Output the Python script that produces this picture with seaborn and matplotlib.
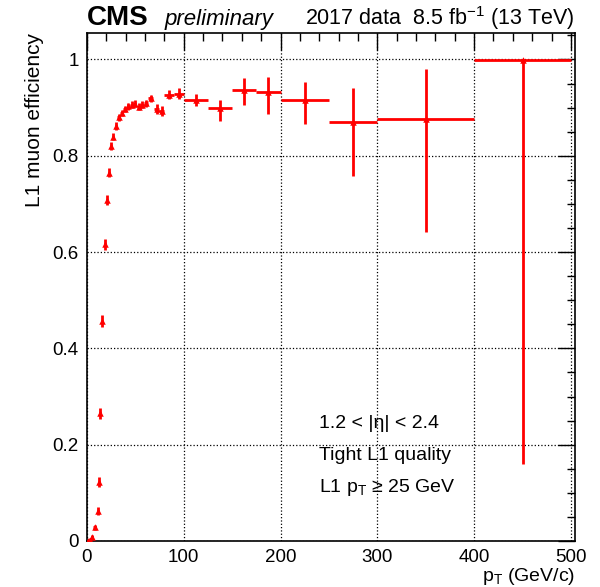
import numpy as np
import pandas as pd
import matplotlib
matplotlib.use("Agg")
import matplotlib.pyplot as plt
import seaborn as sns
from matplotlib.ticker import MultipleLocator, FuncFormatter

# ----------------------------
# Data
# ----------------------------

pt = [1, 3, 5, 8, 11, 12.7, 13.6, 16, 18.5, 21, 23, 24.5, 26.5, 30, 33,
      36, 39, 42.5, 46, 49.5, 53.5, 57, 61, 66, 72, 77, 85, 95,
      112.5, 137.5, 162.5, 187.5, 225, 275, 350, 450]

pt_halfwidth = [1, 1, 1, 1.5, 1, 0.7, 0.7, 1, 1, 1, 1, 1, 1, 1.5, 1.5,
                1.5, 1.5, 1.5, 1.5, 1.5, 2, 2, 2, 2.5, 2.5, 2.5, 5, 5,
                12.5, 12.5, 12.5, 12.5, 25, 25, 50, 50]

eff = [0.0, 0.003, 0.008, 0.028, 0.062, 0.123, 0.265, 0.457, 0.616, 0.708,
       0.765, 0.820, 0.840, 0.862, 0.880, 0.889, 0.897, 0.903, 0.906, 0.908,
       0.902, 0.906, 0.909, 0.919, 0.897, 0.893, 0.927, 0.929,
       0.916, 0.899, 0.937, 0.932, 0.916, 0.870, 0.877, 0.998]

eff_err_lo = [0.0, 0.002, 0.004, 0.006, 0.008, 0.010, 0.012, 0.013, 0.012, 0.011,
              0.010, 0.009, 0.008, 0.008, 0.007, 0.007, 0.007, 0.007, 0.007, 0.007,
              0.007, 0.007, 0.007, 0.008, 0.010, 0.010, 0.010, 0.012,
              0.012, 0.027, 0.031, 0.045, 0.051, 0.111, 0.235, 0.838]

eff_err_hi = [0.002, 0.003, 0.005, 0.006, 0.008, 0.010, 0.012, 0.013, 0.012, 0.011,
              0.010, 0.009, 0.008, 0.008, 0.007, 0.007, 0.007, 0.007, 0.007, 0.007,
              0.007, 0.007, 0.007, 0.008, 0.010, 0.010, 0.010, 0.011,
              0.012, 0.016, 0.025, 0.031, 0.038, 0.070, 0.103, 0.002]

df = pd.DataFrame({"pt": pt, "eff": eff})

# ----------------------------
# Style
# ----------------------------

sns.set_style("white")
plt.rcParams["font.family"] = ["Liberation Sans", "DejaVu Sans"]
plt.rcParams["mathtext.fontset"] = "custom"
plt.rcParams["mathtext.rm"] = "Liberation Sans"
plt.rcParams["mathtext.it"] = "Liberation Sans:italic"
plt.rcParams["text.color"] = "black"

fig = plt.figure(figsize=(6, 5.87), dpi=100)
ax = fig.add_axes([0.145, 0.0784, 0.813, 0.8654])

ax.errorbar(
    pt, eff,
    xerr=pt_halfwidth,
    yerr=[eff_err_lo, eff_err_hi],
    fmt="none", ecolor="red", elinewidth=2, capsize=0, zorder=3
)

sns.scatterplot(
    data=df, x="pt", y="eff",
    marker="^", color="red", s=22, linewidth=0,
    ax=ax, zorder=4, legend=False
)

ax.set_xlim(0, 504)
ax.set_ylim(0, 1.055)

ax.xaxis.set_major_locator(MultipleLocator(100))
ax.xaxis.set_minor_locator(MultipleLocator(20))
ax.yaxis.set_major_locator(MultipleLocator(0.2))
ax.yaxis.set_minor_locator(MultipleLocator(0.05))

fmt = FuncFormatter(lambda v, p: "%g" % round(v, 3))
ax.xaxis.set_major_formatter(fmt)
ax.yaxis.set_major_formatter(fmt)

ax.tick_params(which="both", direction="in", top=True, right=True,
               labelsize=13.5, colors="black", labelcolor="black", width=1)
ax.tick_params(which="major", length=12, pad=6)
ax.tick_params(which="minor", length=6)

ax.grid(True, which="major", linestyle=":", color="black", linewidth=0.9)

for s in ax.spines.values():
    s.set_color("black")
    s.set_linewidth(1.2)

ax.set_xlabel("")
ax.set_ylabel("")

fig.text(0.058, 0.944, "L1 muon efficiency", rotation=90,
         ha="center", va="top", fontsize=15)
fig.text(0.958, 0.011, r"$\mathrm{p_{T}}$ (GeV/c)",
         ha="right", va="baseline", fontsize=14)

# ----------------------------
# Header
# ----------------------------

fig.text(0.145, 0.958, "CMS", fontsize=20, fontweight="bold",
         ha="left", va="baseline")
fig.text(0.275, 0.958, "preliminary", fontsize=16, style="italic",
         ha="left", va="baseline")
fig.text(0.958, 0.958, r"2017 data  8.5 fb$^{-1}$ (13 TeV)", fontsize=15.5,
         ha="right", va="baseline")

# ----------------------------
# Annotations
# ----------------------------

ax.text(240, 0.245, "1.2 < |η| < 2.4", fontsize=14, va="center")
ax.text(240, 0.177, "Tight L1 quality", fontsize=14, va="center")
ax.text(240, 0.112, r"L1 p$_\mathrm{T}$ ≥ 25 GeV", fontsize=14, va="center")

fig.savefig("out.png", dpi=100)
plt.close(fig)
